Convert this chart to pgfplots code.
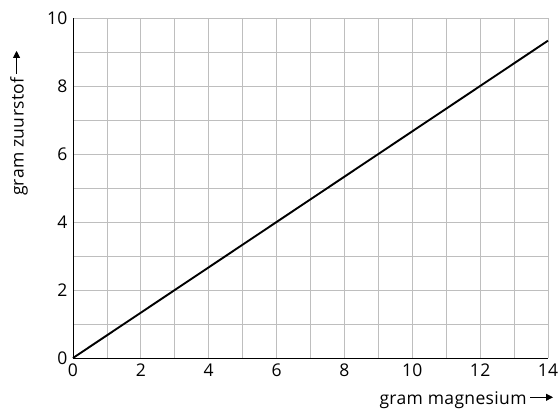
\documentclass[border=0pt]{standalone}
\usepackage{pgfplots}
\pgfplotsset{compat=1.18}
\usepackage{fontspec}
\setmainfont{Open Sans}[LetterSpace=2]
\usetikzlibrary{arrows.meta}
\newcommand{\rarr}{\tikz[baseline=-0.5ex]\draw[line width=0.9pt,-{Triangle[length=7pt,width=7pt]}] (0,0.25ex)--(23pt,0.25ex);}
\begin{document}
\begin{tikzpicture}
\useasboundingbox (-73pt,-56pt) rectangle (487pt,358pt);
\begin{axis}[
  at={(0,0)}, anchor=south west,
  scale only axis, width=475pt, height=340pt,
  xmin=0, xmax=14, ymin=0, ymax=10,
  axis lines=left,
  axis line style={-, line width=0.8pt, black},
  xtick={0,2,...,14}, minor xtick={1,3,...,13},
  ytick={0,2,...,10}, minor ytick={1,3,...,9},
  major tick length=0pt, minor tick length=0pt,
  grid=both,
  major grid style={line width=0.8pt, color={rgb,255:red,190;green,190;blue,190}},
  minor grid style={line width=0.8pt, color={rgb,255:red,190;green,190;blue,190}},
  /pgf/number format/assume math mode=true,
  tick label style={font=\fontsize{17.5}{20}\selectfont},
  label style={font=\fontsize{17.5}{20}\selectfont},
  xticklabel style={yshift=-2pt},
  yticklabel style={xshift=-2pt},
  xlabel={gram magnesium\hspace{3pt}\rarr},
  ylabel={gram zuurstof\hspace{3pt}\rarr},
  xlabel style={at={(axis description cs:1.019,-0.1235)}, anchor=east},
  ylabel style={at={(axis description cs:-0.1137,0.915)}, anchor=east, rotate=0},
  clip=false,
]
\addplot[black, line width=1.9pt] coordinates {(0,0) (14,9.333)};
\end{axis}
\end{tikzpicture}
\end{document}
